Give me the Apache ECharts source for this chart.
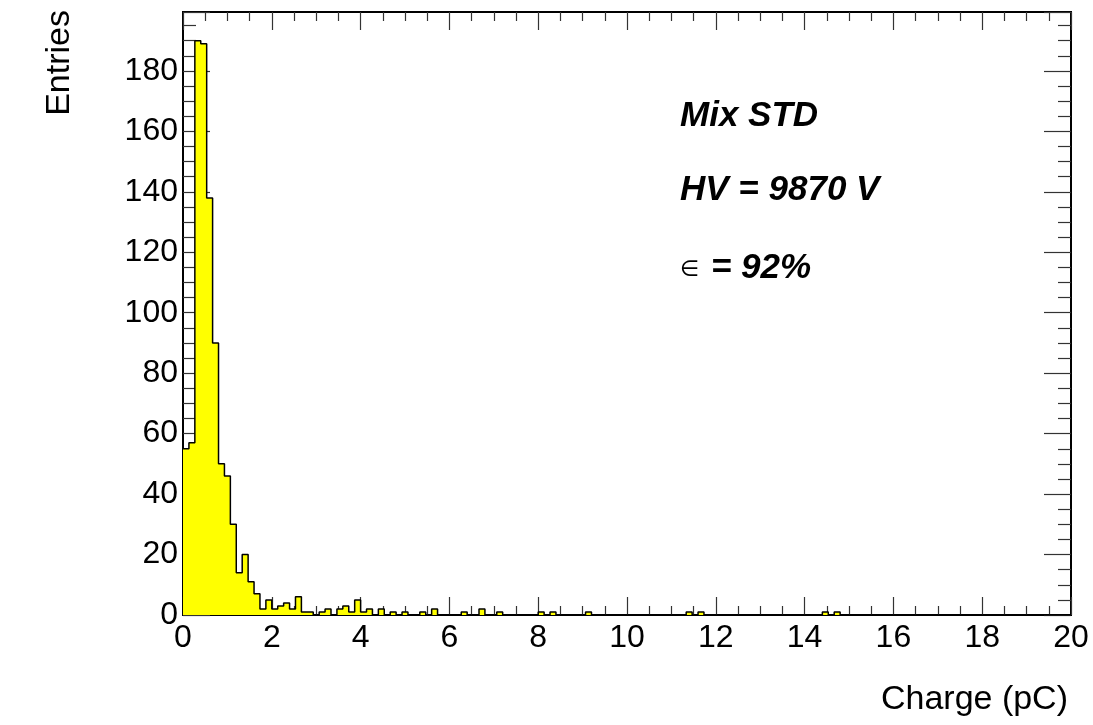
<!DOCTYPE html>
<html><head><meta charset="utf-8">
<script src="https://cdn.jsdelivr.net/npm/echarts@6/dist/echarts.min.js"></script>
<style>html,body{margin:0;padding:0;background:#fff}#c{width:1093px;height:725px}</style>
</head><body><div id="c"></div>
<script>
// Histogram: 150 bins over 0..20 pC
const xMin = 0;
const xMax = 20;
const yMax = 199.5;
const binCounts = [
  55, 57, 190, 189, 138, 90, 50, 46, 30, 14, 20, 11, 7, 2, 5,
  2, 3, 4, 2, 6, 1, 1, 0, 1, 2, 0, 2, 3, 1, 5,
  1, 2, 0, 2, 0, 1, 0, 1, 0, 0, 1, 0, 2, 0, 0,
  0, 0, 1, 0, 0, 2, 0, 0, 1, 0, 0, 0, 0, 0, 0,
  1, 0, 1, 0, 0, 0, 0, 0, 1, 0, 0, 0, 0, 0, 0,
  0, 0, 0, 0, 0, 0, 0, 0, 0, 0, 1, 0, 1, 0, 0,
  0, 0, 0, 0, 0, 0, 0, 0, 0, 0, 0, 0, 0, 0, 0,
  0, 0, 0, 1, 0, 1, 0, 0, 0, 0, 0, 0, 0, 0, 0,
  0, 0, 0, 0, 0, 0, 0, 0, 0, 0, 0, 0, 0, 0, 0,
  0, 0, 0, 0, 0, 0, 0, 0, 0, 0, 0, 0, 0, 0, 0
];
const xTitle = 'Charge (pC)';
const yTitle = 'Entries';
const legendLines = ['Mix STD', 'HV = 9870 V'];
const effLabel = ['∈', ' = 92%'];

const nBins = binCounts.length;
const binWidth = (xMax - xMin) / nBins;
const stepData = binCounts.map((c, i) => [xMin + i * binWidth, c]);
stepData.push([xMax, binCounts[nBins - 1]]);

const FONT = '"Liberation Sans", Arial, Helvetica, sans-serif';
const tickStyle = { color: '#333', width: 1.2 };

function xAxisDef(pos, showLabel) {
  return {
    type: 'value', min: xMin, max: xMax, interval: 2, position: pos, gridIndex: 0,
    axisLine: { show: true, onZero: false, lineStyle: { color: '#000', width: 2 } },
    axisTick: { show: true, inside: true, length: 18, lineStyle: tickStyle },
    minorTick: { show: true, splitNumber: 4, length: 9, lineStyle: tickStyle },
    axisLabel: { show: showLabel, fontSize: 32, color: '#000', margin: 7, fontFamily: FONT },
    splitLine: { show: false }, minorSplitLine: { show: false }
  };
}
function yAxisDef(pos, showLabel) {
  return {
    type: 'value', min: 0, max: yMax, interval: 20, position: pos, gridIndex: 0,
    axisLine: { show: true, onZero: false, lineStyle: { color: '#000', width: 2 } },
    axisTick: { show: true, inside: true, length: 27, lineStyle: tickStyle },
    minorTick: { show: true, splitNumber: 4, length: 13, lineStyle: tickStyle },
    axisLabel: { show: showLabel, fontSize: 32, color: '#000', margin: 5, fontFamily: FONT, showMaxLabel: false },
    splitLine: { show: false }, minorSplitLine: { show: false }
  };
}

const chart = echarts.init(document.getElementById('c'), null, { renderer: 'canvas' });
chart.setOption({
  animation: false,
  backgroundColor: '#fff',
  grid: { left: 183, right: 22, top: 12, bottom: 110, show: true, borderColor: '#000', borderWidth: 2, backgroundColor: 'transparent' },
  xAxis: [xAxisDef('bottom', true), xAxisDef('top', false)],
  yAxis: [yAxisDef('left', true), yAxisDef('right', false)],
  series: [{
    type: 'line', xAxisIndex: 0, yAxisIndex: 0,
    step: 'end', symbol: 'none', data: stepData,
    lineStyle: { color: '#000', width: 1.5 },
    areaStyle: { color: '#ffff00', opacity: 1, origin: 'start' },
    z: 1
  }],
  graphic: [
    { type: 'text', x: 1068, y: 700, style: { text: xTitle, font: '34px ' + FONT, fill: '#000', textAlign: 'right', textVerticalAlign: 'middle' } },
    { type: 'text', x: 60, y: 10, rotation: Math.PI / 2, style: { text: yTitle, font: '34px ' + FONT, fill: '#000', textAlign: 'right', textVerticalAlign: 'middle' } },
    { type: 'text', x: 680, y: 116, style: { text: legendLines[0], font: 'italic bold 35px ' + FONT, fill: '#000', textAlign: 'left', textVerticalAlign: 'middle' } },
    { type: 'text', x: 680, y: 190, style: { text: legendLines[1], font: 'italic bold 35px ' + FONT, fill: '#000', textAlign: 'left', textVerticalAlign: 'middle' } },
    { type: 'text', x: 680, y: 268, style: {
        text: '{s|' + effLabel[0] + '}{b|' + effLabel[1] + '}',
        rich: {
          s: { fontSize: 22, fontFamily: '"DejaVu Sans", sans-serif', color: '#000', padding: [4, 2, 0, 0] },
          b: { fontSize: 35, fontStyle: 'italic', fontWeight: 'bold', fontFamily: FONT, color: '#000' }
        },
        textAlign: 'left', textVerticalAlign: 'middle' } }
  ]
});
</script>
</body></html>
